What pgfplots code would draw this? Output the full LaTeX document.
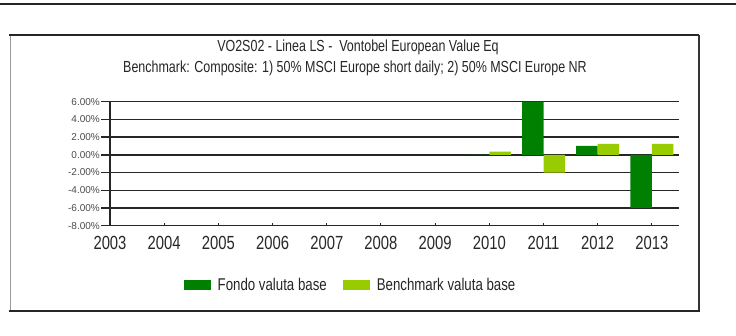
\documentclass[border=0pt]{standalone}
\usepackage{fontspec}
\setmainfont{Liberation Sans}[FakeStretch=0.78]
\newfontfamily\tickfont{Liberation Sans}
\usepackage{pgfplots}
\pgfplotsset{compat=1.18}
\definecolor{fondo}{RGB}{0,128,0}
\definecolor{bench}{RGB}{153,204,0}
\definecolor{txt}{RGB}{40,40,40}

\begin{document}
\begin{tikzpicture}[x=1pt,y=1pt]
\useasboundingbox (0,0) rectangle (736,336);
\fill[white] (0,0) rectangle (736,336);
% rule at the top of the page
\draw[line width=2.5pt, black!85] (0,332) -- (736,332);
% chart frame
\draw[line width=0.8pt, black!40] (10,25) -- (10,301);
\draw[line width=2pt, black!85] (9,301) -- (699,301);
\draw[line width=1.2pt, black!80] (699,301) -- (699,25);
\draw[line width=2.5pt, black!85] (9,25) -- (700,25);
% titles
\node[font=\fontsize{16}{18}\selectfont, text=black!85] at (358,289) {VO2S02 - Linea LS -\ \ Vontobel European Value Eq};
\node[font=\fontsize{16}{18}\selectfont, text=black!85] at (355,268) {Benchmark: Composite: 1) 50\% MSCI Europe short daily; 2) 50\% MSCI Europe NR};

\begin{axis}[
    at={(110pt,110.3pt)}, anchor=south west,
    scale only axis,
    width=569pt, height=124pt,
    xmin=2003, xmax=2013.5,
    ymin=-8, ymax=6,
    ybar=0pt,
    bar width=21.5pt,
    axis x line*=bottom,
    axis y line*=left,
    axis line style={-, black!85, line width=1.4pt},
    ymajorgrids,
    major grid style={black!85, line width=1.4pt},
    xtick={2003,2004,2005,2006,2007,2008,2009,2010,2011,2012,2013},
    xticklabels={2003,2004,2005,2006,2007,2008,2009,2010,2011,2012,2013},
    ytick={-8,-6,-4,-2,0,2,4,6},
    yticklabels={-8.00\%,-6.00\%,-4.00\%,-2.00\%,0.00\%,2.00\%,4.00\%,6.00\%},
    xtick align=inside,
    ytick align=outside,
    major tick length=9pt,
    xtick style={black!85, line width=1pt, /pgfplots/major tick length=3pt},
    ytick style={black!85, line width=1.4pt},
    xticklabel style={font=\fontsize{19}{22}\selectfont, text=txt, inner sep=0pt, yshift=-10pt},
    yticklabel style={font=\tickfont\fontsize{10}{12}\selectfont, text=black!70, inner sep=1pt},
    legend style={at={(0.4227,-0.478)}, anchor=center, draw=none, fill=none,
        inner sep=0pt, legend columns=2,
        font=\fontsize{17}{19}\selectfont, text=black!85,
        /tikz/every odd column/.append style={column sep=5pt},
        /tikz/every even column/.append style={column sep=14pt}},
    legend image code/.code={\fill[#1] (0pt,-5pt) rectangle (27pt,5pt);},
]
\addplot[fill=fondo, draw=none] coordinates {(2010,0) (2011,6.0) (2012,1.0) (2013,-6.0)};
\addplot[fill=bench, draw=none] coordinates {(2010,0.35) (2011,-2.0) (2012,1.25) (2013,1.25)};
\legend{Fondo valuta base, Benchmark valuta base}
\end{axis}
\end{tikzpicture}
\end{document}
